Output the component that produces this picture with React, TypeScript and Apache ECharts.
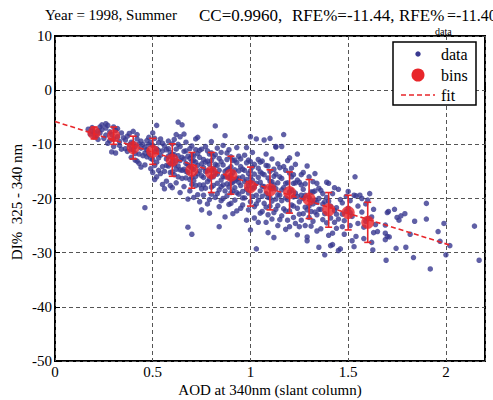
import React, { useEffect, useRef } from "react";
import * as echarts from "echarts";

const FONT = "Liberation Serif";
const DOT = "#383890";
const RED = "#e8262a";

const dataPoints: number[][] = [
  [0.17,-7.2],[0.19,-6.9],[0.2,-7.8],[0.21,-8.4],[0.22,-7.5],[0.18,-8.1],[0.23,-6.8],[0.24,-7.3],[0.25,-8.9],[0.22,-9.1],[0.2,-8.6],[0.24,-6.4],[0.26,-6.2],[0.23,-7.9],[0.19,-7.6],
  [0.26,-7.0],[0.27,-6.5],[0.28,-7.7],[0.29,-8.2],[0.3,-6.8],[0.31,-7.4],[0.28,-9.3],[0.27,-9.8],[0.3,-9.0],[0.32,-8.6],[0.33,-9.5],[0.34,-7.9],[0.29,-11.4],[0.31,-11.6],[0.33,-10.2],[0.35,-8.8],[0.3,-10.4],[0.26,-8.3],[0.34,-10.9],[0.32,-7.1],
  [0.36,-9.2],[0.37,-8.5],[0.38,-10.1],[0.39,-9.6],[0.4,-11.0],[0.41,-10.4],[0.42,-9.0],[0.43,-11.8],[0.44,-10.7],[0.37,-11.3],[0.39,-12.4],[0.41,-12.9],[0.42,-8.2],[0.44,-9.4],[0.45,-12.1],[0.38,-8.0],[0.4,-9.8],[0.43,-13.5],[0.36,-10.8],[0.45,-10.0],[0.41,-11.7],[0.4,-7.6],[0.44,-14.2],[0.39,-10.9],[0.42,-13.1],
  [0.46,-10.5],[0.47,-9.3],[0.48,-11.9],[0.49,-12.6],[0.5,-10.2],[0.51,-11.4],[0.52,-13.3],[0.53,-9.7],[0.54,-12.0],[0.55,-14.1],[0.46,-13.8],[0.48,-8.7],[0.5,-15.2],[0.51,-8.9],[0.52,-10.8],[0.53,-14.8],[0.54,-9.0],[0.47,-12.3],[0.49,-14.5],[0.5,-12.8],[0.52,-16.0],[0.55,-11.2],[0.48,-10.0],[0.53,-12.5],[0.51,-16.5],[0.46,-11.6],[0.54,-15.4],[0.5,-7.9],[0.52,-6.5],[0.55,-17.4],[0.46,-21.7],
  [0.56,-10.3],[0.57,-12.7],[0.58,-14.0],[0.59,-11.5],[0.6,-13.2],[0.61,-15.6],[0.62,-10.9],[0.63,-12.1],[0.64,-14.7],[0.65,-16.3],[0.56,-15.0],[0.58,-9.4],[0.6,-11.8],[0.61,-9.1],[0.62,-17.1],[0.63,-14.0],[0.64,-10.4],[0.57,-16.8],[0.59,-13.6],[0.6,-18.0],[0.62,-13.0],[0.65,-12.4],[0.58,-12.2],[0.61,-13.8],[0.63,-16.0],[0.56,-18.2],[0.64,-8.6],[0.65,-6.4],[0.63,-5.9],[0.6,-15.1],[0.57,-11.0],[0.59,-17.6],[0.62,-8.2],[0.64,-18.9],[0.6,-9.9],
  [0.66,-11.3],[0.67,-13.5],[0.68,-15.2],[0.69,-12.6],[0.7,-14.4],[0.71,-16.7],[0.72,-11.0],[0.73,-13.9],[0.74,-17.5],[0.75,-15.8],[0.66,-17.8],[0.67,-9.6],[0.68,-12.2],[0.69,-18.6],[0.7,-10.3],[0.71,-13.0],[0.72,-15.9],[0.73,-19.3],[0.74,-12.4],[0.75,-10.9],[0.66,-14.6],[0.68,-20.1],[0.7,-16.1],[0.72,-9.0],[0.74,-14.9],[0.67,-16.2],[0.69,-14.0],[0.71,-19.8],[0.73,-11.7],[0.75,-18.2],[0.68,-25.3],[0.7,-26.6],[0.73,-8.7],[0.66,-8.1],[0.7,-17.4],[0.72,-13.3],[0.69,-10.8],[0.74,-20.6],[0.71,-12.1],[0.67,-15.0],
  [0.76,-12.8],[0.77,-15.0],[0.78,-16.9],[0.79,-13.7],[0.8,-14.8],[0.81,-17.6],[0.82,-11.9],[0.83,-15.5],[0.84,-18.4],[0.85,-13.2],[0.76,-19.4],[0.77,-10.4],[0.78,-13.1],[0.79,-20.2],[0.8,-11.6],[0.81,-14.5],[0.82,-6.6],[0.83,-19.1],[0.84,-12.6],[0.85,-16.6],[0.76,-16.1],[0.78,-21.0],[0.8,-17.9],[0.82,-15.3],[0.84,-21.5],[0.75,-22.1],[0.77,-18.1],[0.79,-16.4],[0.81,-12.3],[0.83,-13.9],[0.85,-20.4],[0.84,-25.2],[0.8,-9.5],[0.78,-11.2],[0.82,-19.8],[0.76,-14.3],[0.8,-16.0],[0.83,-10.7],[0.85,-17.8],[0.79,-22.7],
  [0.86,-13.8],[0.87,-16.0],[0.88,-17.3],[0.89,-14.5],[0.9,-15.7],[0.91,-18.6],[0.92,-12.9],[0.93,-16.4],[0.94,-19.2],[0.95,-14.1],[0.86,-20.0],[0.87,-8.4],[0.88,-11.6],[0.89,-21.1],[0.9,-12.3],[0.91,-15.2],[0.92,-20.3],[0.93,-13.4],[0.94,-17.0],[0.95,-21.8],[0.87,-23.4],[0.88,-14.7],[0.9,-18.9],[0.91,-22.8],[0.92,-16.7],[0.93,-10.6],[0.94,-14.9],[0.86,-17.5],[0.89,-11.0],[0.9,-20.9],[0.95,-17.6],[0.91,-13.0],[0.88,-19.5],[0.93,-22.3],[0.86,-10.2],[0.92,-18.0],[0.94,-12.2],[0.9,-16.3],[0.89,-17.9],[0.87,-15.0],
  [0.96,-14.6],[0.97,-16.9],[0.98,-18.3],[0.99,-15.4],[1.0,-17.0],[1.01,-19.6],[1.02,-13.7],[1.03,-17.2],[1.04,-20.3],[1.05,-15.1],[0.96,-21.2],[0.97,-12.0],[0.98,-13.4],[0.99,-22.1],[1.0,-8.6],[1.01,-14.2],[1.02,-21.5],[1.03,-9.0],[1.04,-16.1],[1.05,-22.7],[0.96,-18.7],[0.98,-24.0],[1.0,-20.6],[1.01,-11.5],[1.02,-17.9],[1.04,-12.8],[1.0,-25.8],[1.03,-29.3],[0.97,-19.9],[0.99,-12.9],[1.05,-18.6],[1.02,-23.6],[0.96,-16.0],[1.0,-14.9],[1.03,-21.0],[0.98,-10.6],[1.04,-24.4],[1.01,-16.6],[0.99,-19.0],[1.05,-13.3],
  [1.06,-15.4],[1.07,-17.8],[1.08,-19.1],[1.09,-16.2],[1.1,-18.0],[1.11,-20.5],[1.12,-14.6],[1.13,-18.2],[1.14,-21.3],[1.15,-16.0],[1.06,-22.4],[1.07,-9.2],[1.08,-13.9],[1.09,-23.0],[1.1,-15.0],[1.11,-12.7],[1.12,-22.6],[1.13,-10.4],[1.14,-17.1],[1.15,-23.9],[1.06,-19.6],[1.09,-26.3],[1.11,-23.8],[1.12,-27.2],[1.1,-21.4],[1.13,-15.5],[1.08,-11.8],[1.14,-13.6],[1.07,-20.9],[1.15,-19.4],[1.1,-8.9],[1.12,-17.5],[1.06,-13.1],[1.14,-25.0],[1.09,-19.8],[1.11,-16.9],[1.08,-24.4],[1.13,-20.1],
  [1.16,-16.3],[1.17,-8.2],[1.18,-19.9],[1.19,-17.1],[1.2,-18.8],[1.21,-21.2],[1.22,-15.6],[1.23,-19.0],[1.24,-11.8],[1.25,-17.0],[1.16,-23.2],[1.17,-14.1],[1.18,-14.8],[1.19,-24.0],[1.2,-12.5],[1.21,-16.0],[1.22,-23.5],[1.23,-13.7],[1.24,-21.8],[1.25,-25.2],[1.16,-20.4],[1.2,-25.2],[1.22,-19.7],[1.24,-26.7],[1.18,-22.3],[1.21,-18.5],[1.19,-13.0],[1.23,-24.6],[1.17,-18.0],[1.25,-20.6],[1.2,-15.3],[1.22,-17.2],[1.24,-16.6],[1.16,-10.4],[1.18,-25.7],[1.13,-10.5],
  [1.26,-17.5],[1.27,-20.0],[1.28,-21.6],[1.29,-14.0],[1.3,-19.8],[1.31,-22.4],[1.32,-16.9],[1.33,-20.3],[1.34,-23.0],[1.35,-18.1],[1.26,-24.0],[1.27,-15.2],[1.28,-17.3],[1.29,-27.1],[1.29,-27.8],[1.3,-16.0],[1.31,-25.1],[1.32,-21.0],[1.33,-18.6],[1.34,-26.0],[1.35,-29.0],[1.27,-22.8],[1.3,-23.5],[1.33,-15.4],[1.26,-19.4],[1.28,-25.0],[1.31,-18.8],[1.34,-20.7],[1.32,-24.2],[1.35,-22.0],
  [1.36,-18.5],[1.37,-21.0],[1.38,-22.8],[1.39,-17.0],[1.4,-20.5],[1.41,-23.6],[1.42,-19.1],[1.43,-24.4],[1.44,-21.7],[1.45,-18.3],[1.36,-25.6],[1.38,-30.4],[1.4,-17.2],[1.41,-28.7],[1.42,-26.4],[1.43,-18.0],[1.44,-25.5],[1.45,-29.6],[1.37,-23.9],[1.4,-26.8],[1.42,-28.5],[1.39,-19.8],[1.44,-22.9],[1.46,-29.3],
  [1.46,-20.2],[1.47,-22.9],[1.48,-24.1],[1.49,-19.6],[1.5,-21.8],[1.51,-25.0],[1.52,-23.3],[1.53,-19.4],[1.54,-27.0],[1.55,-21.4],[1.535,-16.0],[1.54,-19.5],[1.56,-19.4],[1.48,-26.6],[1.5,-18.7],[1.52,-27.8],[1.53,-28.9],[1.47,-20.8],[1.51,-22.6],[1.55,-24.6],
  [1.57,-22.5],[1.58,-25.3],[1.59,-21.0],[1.6,-20.3],[1.61,-19.1],[1.62,-23.4],[1.63,-22.0],[1.63,-26.3],[1.626,-29.5],[1.64,-24.8],[1.58,-27.4],[1.6,-23.7],[1.65,-26.1],[1.57,-20.0],[1.62,-28.1],[1.59,-24.2],
  [1.69,-24.9],[1.69,-26.4],[1.7,-27.0],[1.71,-27.1],[1.69,-27.6],[1.694,-31.4],[1.7,-22.6],[1.706,-22.4],[1.737,-22.0],[1.745,-29.2],[1.75,-23.5],[1.76,-24.0],[1.77,-23.2],[1.79,-22.8],[1.795,-29.0],[1.817,-26.6],[1.834,-30.9],[1.84,-24.2],[1.9,-20.9],[1.9,-23.8],[1.92,-33.0],[1.96,-26.1],[1.97,-27.9],[1.99,-24.6],[2.0,-30.4],[2.02,-28.7],[2.146,-25.1],[2.17,-31.4],
  [0.43,-9.9],[0.47,-11.0],[0.49,-9.6],[0.51,-13.9],[0.53,-11.1],[0.55,-9.8],[0.57,-13.9],[0.58,-10.8],[0.59,-15.2],[0.61,-11.9],[0.62,-14.6],[0.63,-10.0],[0.64,-13.0],[0.65,-14.8],[0.66,-12.7],[0.67,-11.2],[0.68,-13.8],[0.69,-16.5],[0.7,-12.0],[0.71,-14.6],[0.72,-17.6],[0.73,-15.4],[0.74,-11.1],[0.75,-13.6],[0.76,-17.5],[0.77,-13.3],[0.78,-14.9],[0.79,-11.8],[0.8,-19.2],[0.81,-16.0],[0.82,-13.7],[0.83,-17.2],[0.84,-14.8],[0.85,-11.5],[0.86,-15.9],[0.87,-18.6],[0.88,-12.8],[0.89,-16.1],[0.9,-14.1],[0.91,-17.0],[0.92,-14.7],[0.93,-18.9],[0.94,-16.2],[0.95,-12.7],[0.96,-19.9],[0.97,-14.8],[0.98,-16.5],[0.99,-17.6],[1.0,-13.2],[1.01,-18.1],[1.02,-15.5],[1.03,-19.4],[1.04,-14.4],[1.05,-17.0],[1.06,-17.7],[1.07,-15.6],[1.08,-21.6],[1.09,-14.0],[1.1,-19.9],[1.11,-18.2],[1.12,-15.9],[1.13,-22.0],[1.14,-19.3],[1.15,-14.3],[1.16,-18.4],[1.17,-21.9],[1.18,-17.2],[1.19,-20.2],[1.2,-22.3],[1.21,-14.4],[1.22,-21.4],[1.23,-17.1],[1.24,-19.6],[1.25,-22.9],[1.26,-15.6],[1.27,-18.3],[1.28,-19.4],[1.29,-22.1],[1.3,-21.4],[1.31,-20.3],[1.32,-18.8],[1.33,-22.5],[1.34,-17.2],[1.35,-20.0],[1.36,-22.0],[1.37,-19.1],[1.38,-20.6],[1.39,-24.5],[1.41,-21.4],[1.43,-22.2],[1.45,-23.8],[1.47,-25.2],[1.49,-22.4],[1.51,-20.4],[0.6,-12.5],[0.7,-13.1],[0.8,-13.0],[0.9,-17.2],[1.0,-16.0],[1.1,-16.8]
];

const binX = [0.2, 0.3, 0.4, 0.5, 0.6, 0.7, 0.8, 0.9, 1.0, 1.1, 1.2, 1.3, 1.4, 1.5, 1.6];
const binY = [-7.9, -8.4, -10.6, -11.3, -12.9, -14.8, -15.2, -15.7, -17.8, -18.4, -18.9, -20.1, -22.1, -22.6, -24.4];
const binErr = [1.1, 1.6, 2.1, 2.4, 3.0, 3.3, 3.7, 3.5, 3.6, 3.7, 3.8, 3.6, 3.2, 3.2, 3.7];

const fitX = [0, 2.02];
const fitY = [-5.8, -28.6];

export default function App() {
  const ref = useRef<HTMLDivElement>(null);
  useEffect(() => {
    document.body.style.margin = "0";
    const chart = echarts.init(ref.current!, null, { renderer: "svg" });
    const gridLine = { show: true, lineStyle: { color: "#555", type: [4, 3] as any, width: 1 } };
    const txt = (text: string, x: number, y: number, size: number, extra: any = {}) => ({
      type: "text", x, y, z: 100,
      style: { text, fontFamily: FONT, fontSize: size, fill: "#000", verticalAlign: "middle", ...extra },
    });
    const option: any = {
      animation: false,
      backgroundColor: "#fff",
      textStyle: { fontFamily: FONT },
      grid: { left: 55, right: 8, top: 36, bottom: 39, show: true, borderColor: "#000", borderWidth: 2, backgroundColor: "transparent" },
      xAxis: {
        type: "value", min: 0, max: 2.2, interval: 0.5,
        axisLine: { show: false },
        axisTick: { show: true, inside: true, length: 5, lineStyle: { color: "#000" } },
        axisLabel: { color: "#000", fontFamily: FONT, fontSize: 15, margin: 3, formatter: (v: number) => (v > 2.1 ? "" : String(v)) },
        splitLine: gridLine,
      },
      yAxis: {
        type: "value", min: -50, max: 10, interval: 10,
        axisLine: { show: false },
        axisTick: { show: true, inside: true, length: 5, lineStyle: { color: "#000" } },
        axisLabel: { color: "#000", fontFamily: FONT, fontSize: 15, margin: 3 },
        splitLine: gridLine,
      },
      series: [
        {
          type: "scatter", name: "data", data: dataPoints, symbolSize: 5.5,
          itemStyle: { color: DOT }, z: 2,
        },
        {
          type: "line", name: "fit", data: fitX.map((x, i) => [x, fitY[i]]), symbol: "none",
          lineStyle: { color: RED, width: 1.6, type: [5, 3] }, z: 3,
        },
        {
          type: "custom", name: "err", z: 4,
          data: binX.map((x, i) => [x, binY[i] - binErr[i], binY[i] + binErr[i]]),
          renderItem: (params: any, api: any) => {
            const x = api.value(0);
            const lo = api.coord([x, api.value(1)]);
            const hi = api.coord([x, api.value(2)]);
            const st = { stroke: RED, lineWidth: 1.6 };
            const c = 3.5;
            return {
              type: "group",
              children: [
                { type: "line", shape: { x1: lo[0], y1: lo[1], x2: hi[0], y2: hi[1] }, style: st },
                { type: "line", shape: { x1: lo[0] - c, y1: lo[1], x2: lo[0] + c, y2: lo[1] }, style: st },
                { type: "line", shape: { x1: hi[0] - c, y1: hi[1], x2: hi[0] + c, y2: hi[1] }, style: st },
              ],
            };
          },
        },
        {
          type: "scatter", name: "bins", data: binX.map((x, i) => [x, binY[i]]), symbolSize: 13,
          itemStyle: { color: RED }, z: 5,
        },
      ],
      graphic: [
        txt("Year = 1998, Summer", 45, 15, 15),
        txt("CC=0.9960,", 199, 15, 17),
        txt("RFE%=-11.44,", 292, 15, 17),
        txt("RFE%", 399, 15, 17),
        txt("data", 435, 31, 10),
        txt("=-11.40", 447, 15, 16),
        txt("AOD at 340nm (slant column)", 270, 390, 15, { align: "center" }),
        { ...txt("DI%  325 - 340 nm", 17, 202, 15, { align: "center" }), rotation: Math.PI / 2 },
        { type: "rect", z: 100, shape: { x: 393, y: 42, width: 83, height: 63 }, style: { fill: "#fff", stroke: "#000", lineWidth: 1.5 } },
        { type: "circle", z: 101, shape: { cx: 418, cy: 54, r: 2.7 }, style: { fill: DOT } },
        { type: "circle", z: 101, shape: { cx: 418, cy: 75, r: 6.5 }, style: { fill: RED } },
        { type: "line", z: 101, shape: { x1: 401, y1: 95, x2: 435, y2: 95 }, style: { stroke: RED, lineWidth: 1.6, lineDash: [5, 3] } },
        { ...txt("data", 441, 54, 16), z: 101 },
        { ...txt("bins", 441, 75, 16), z: 101 },
        { ...txt("fit", 441, 95, 16), z: 101 },
      ],
    };
    chart.setOption(option);
    return () => chart.dispose();
  }, []);
  return <div ref={ref} style={{ width: 493, height: 400 }} />;
}
